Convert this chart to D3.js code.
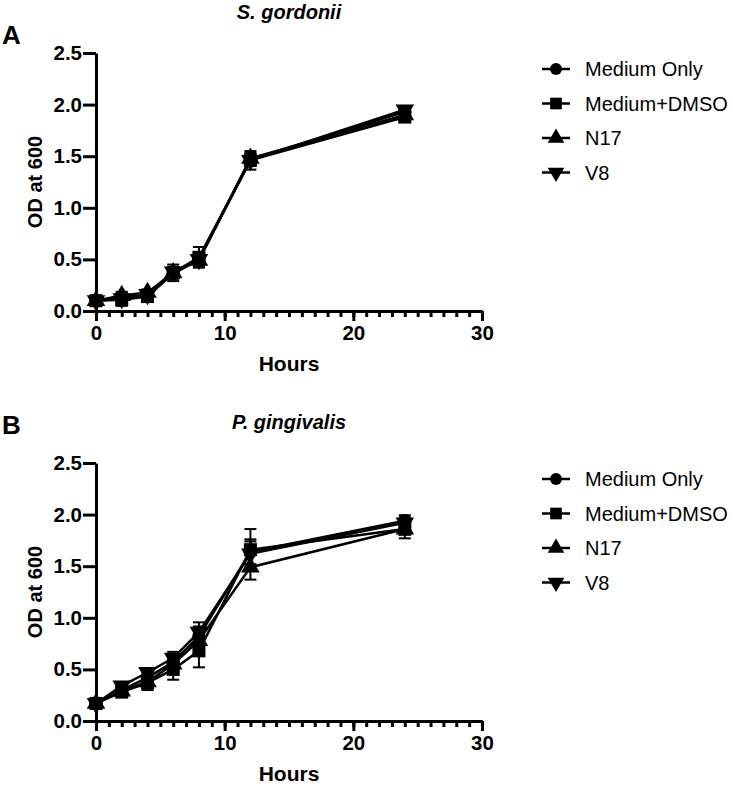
<!DOCTYPE html>
<html><head><meta charset="utf-8">
<script src="https://cdn.jsdelivr.net/npm/d3@7"></script>
<style>body{margin:0;background:#fff}svg{display:block}text{font-family:"Liberation Sans",Arial,sans-serif}</style>
</head><body>
<svg id="chart" width="733" height="786"></svg>
<script>
const hours = [0, 2, 4, 6, 8, 12, 24];
const seriesNames = ["Medium Only", "Medium+DMSO", "N17", "V8"];
const yTicks = [0.0, 0.5, 1.0, 1.5, 2.0, 2.5];
const xMajorTicks = [0, 10, 20, 30];

// Panel A: S. gordonii
const gordMediumOnly = [0.10, 0.14, 0.15, 0.36, 0.50, 1.47, 1.93];
const gordDMSO       = [0.10, 0.11, 0.14, 0.37, 0.52, 1.46, 1.88];
const gordN17        = [0.10, 0.15, 0.18, 0.37, 0.49, 1.48, 1.90];
const gordV8         = [0.10, 0.12, 0.16, 0.38, 0.50, 1.46, 1.95];
const gordErr        = [0.02, 0.06, 0.05, 0.08, 0.10, 0.09, 0.05];

// Panel B: P. gingivalis
const gingMediumOnly = [0.17, 0.30, 0.42, 0.57, 0.82, 1.64, 1.94];
const gingDMSO       = [0.17, 0.28, 0.37, 0.50, 0.68, 1.66, 1.86];
const gingN17        = [0.17, 0.29, 0.38, 0.55, 0.78, 1.49, 1.86];
const gingV8         = [0.17, 0.34, 0.47, 0.61, 0.86, 1.62, 1.92];
const gingErr        = [0.02, 0.04, 0.07, 0.10, 0.16, 0.20, 0.09];

const panels = [
  {letter: "A", title: "S. gordonii", dy: 0, letterY: 44,
   series: [gordMediumOnly, gordDMSO, gordN17, gordV8], err: gordErr},
  {letter: "B", title: "P. gingivalis", dy: 410, letterY: 434,
   series: [gingMediumOnly, gingDMSO, gingN17, gingV8], err: gingErr}
];

const svg = d3.select("#chart");
const FONT = '"Liberation Sans", Arial, sans-serif';
const symTypes = [d3.symbolCircle, d3.symbolSquare, d3.symbolTriangle, d3.symbolTriangle];
const symSizes = [140, 170, 150, 150];
const symRot = [0, 0, 0, 180];

panels.forEach(p => {
  const g = svg.append("g").attr("transform", `translate(0,${p.dy})`);
  const x = d3.scaleLinear().domain([0, 30]).range([96, 482]);
  const y = d3.scaleLinear().domain([0, 2.5]).range([311, 53]);

  svg.append("text").attr("x", 2).attr("y", p.letterY)
    .attr("font-size", 26).attr("font-weight", "bold").text(p.letter);
  g.append("text").attr("x", 289).attr("y", 19).attr("text-anchor", "middle")
    .attr("font-size", 20).attr("font-weight", "bold").attr("font-style", "italic").text(p.title);

  g.append("g").attr("transform", "translate(96,0)")
    .call(d3.axisLeft(y).tickValues(yTicks).tickFormat(d3.format(".1f")).tickSize(13).tickSizeOuter(0).tickPadding(1));
  g.append("g").attr("transform", "translate(0,311)")
    .call(d3.axisBottom(x).tickValues(d3.range(0, 31)).tickFormat("").tickSize(6).tickSizeOuter(0));
  g.append("g").attr("transform", "translate(0,311)")
    .call(d3.axisBottom(x).tickValues(xMajorTicks).tickSize(10).tickSizeOuter(0).tickPadding(4));
  g.selectAll(".domain, .tick line").attr("stroke", "#000").attr("stroke-width", 3);
  g.selectAll(".tick text").attr("font-family", FONT).attr("font-size", 20.5)
    .attr("font-weight", "bold").attr("fill", "#000");

  g.append("text").attr("x", 289).attr("y", 371).attr("text-anchor", "middle")
    .attr("font-size", 21).attr("font-weight", "bold").text("Hours");
  g.append("text").attr("transform", "translate(42,182) rotate(-90)").attr("text-anchor", "middle")
    .attr("font-size", 20).attr("font-weight", "bold").text("OD at 600");

  const line = d3.line().x((d, i) => x(hours[i])).y(d => y(d));
  const order = [3, 2, 0, 1];
  order.forEach(si => {
    g.append("path").datum(p.series[si]).attr("d", line)
      .attr("fill", "none").attr("stroke", "#000").attr("stroke-width", 2.5);
  });
  order.forEach(si => {
    const vals = p.series[si];
    const eg = g.append("g");
    vals.forEach((v, i) => {
      const e = si === 1 ? p.err[i] : p.err[i] * 0.6;
      const cx = x(hours[i]);
      eg.append("line").attr("x1", cx).attr("x2", cx).attr("y1", y(v - e)).attr("y2", y(v + e))
        .attr("stroke", "#000").attr("stroke-width", 2);
      [v - e, v + e].forEach(b => eg.append("line").attr("x1", cx - 6).attr("x2", cx + 6)
        .attr("y1", y(b)).attr("y2", y(b)).attr("stroke", "#000").attr("stroke-width", 2));
    });
  });
  order.forEach(si => {
    g.append("g").selectAll("path").data(p.series[si]).join("path")
      .attr("d", d3.symbol().type(symTypes[si]).size(symSizes[si]))
      .attr("transform", (d, i) => `translate(${x(hours[i])},${y(d)}) rotate(${symRot[si]})`)
      .attr("fill", "#000");
  });

  const lg = g.append("g");
  seriesNames.forEach((name, i) => {
    const cy = 69 + i * 34.5;
    lg.append("line").attr("x1", 542).attr("x2", 570).attr("y1", cy).attr("y2", cy)
      .attr("stroke", "#000").attr("stroke-width", 2.5);
    lg.append("path").attr("d", d3.symbol().type(symTypes[i]).size(symSizes[i] * 0.8))
      .attr("transform", `translate(556,${cy}) rotate(${symRot[i]})`).attr("fill", "#000");
    lg.append("text").attr("x", 585).attr("y", cy + 7).attr("font-size", 20).text(name);
  });
});
</script>
</body></html>
